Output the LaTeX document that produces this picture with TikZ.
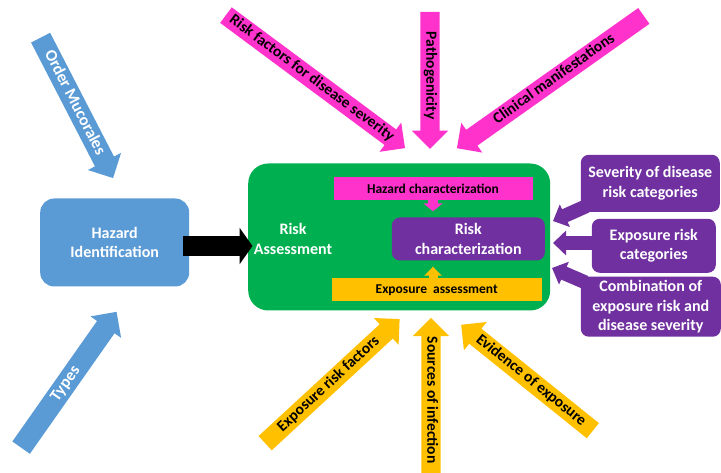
\documentclass[tikz,border=0pt]{standalone}
\usepackage{fontspec}
\setmainfont{Carlito}
\usetikzlibrary{shapes.arrows,arrows.meta}
\definecolor{hazblue}{HTML}{5B9BD5}
\definecolor{assgreen}{HTML}{00B050}
\definecolor{hazpink}{HTML}{FF33CC}
\definecolor{riskpurple}{HTML}{7030A0}
\definecolor{expgold}{HTML}{FFC000}
\newcommand\bigtxt{\bfseries\fontsize{16}{19.5}\selectfont}
\newcommand\bartxt{\bfseries\fontsize{13.5}{16}\selectfont}
\newcommand\arrtxt{\bfseries\fontsize{15.5}{18}\selectfont}
\newcommand\blutxt{\bfseries\fontsize{16.5}{19}\selectfont}
\begin{document}
\begin{tikzpicture}[x=1pt, y=-1pt,
    box/.style={rounded corners=8pt, inner sep=0pt, align=center, text=white, font=\bigtxt},
    bar/.style={inner sep=0pt, font=\bartxt},
    blockarrow/.style={single arrow, anchor=tail, inner xsep=4pt, single arrow tip angle=90, font=\arrtxt},
    thinarrow/.style={blockarrow, text height=10.5pt, text depth=3pt, inner ysep=2.75pt, single arrow head extend=8.5pt},
    bluearrow/.style={blockarrow, fill=hazblue, text=white, text height=11.5pt, text depth=3.5pt, inner ysep=3pt, single arrow head extend=8pt, font=\blutxt},
    pinkarrow/.style={thinarrow, fill=hazpink},
    goldarrow/.style={thinarrow, fill=expgold},
    blackarrow/.style={-{Triangle[length=13pt,width=36pt]}, line width=20pt},
    smallpink/.style={-{Triangle[length=8pt,width=19pt]}, line width=10pt, hazpink},
    smallgold/.style={-{Triangle[length=9pt,width=17pt]}, line width=9pt, expgold},
    callout/.style={-{Triangle[length=13pt,width=24pt]}, line width=14pt, riskpurple}]
  \useasboundingbox (0,0) rectangle (721,473);

  \node[box, fill=hazblue, rounded corners=14pt, minimum width=149pt, minimum height=88pt] (hazid) at (114.7,242.5) {Hazard\\Identification};

  \node[box, fill=assgreen, rounded corners=20pt, minimum width=302pt, minimum height=147pt] (ra) at (399.2,237) {};
  \node[text=white, align=center, font=\bigtxt] (ratext) at (293,239) {Risk\\Assessment};
  \node[bar, fill=hazpink, minimum width=199pt, minimum height=23pt] (hazchar) at (433,188.6) {Hazard characterization};
  \node[box, fill=riskpurple, minimum width=153pt, minimum height=43pt] (riskchar) at (468.3,239) {Risk\\characterization};
  \node[bar, fill=expgold, minimum width=210pt, minimum height=23pt] (expo) at (436.7,290) {Exposure\ \ assessment};

  \node[box, fill=riskpurple, minimum width=139pt, minimum height=57pt] (sevcat) at (650.3,183.3) {Severity of disease\\risk categories};
  \node[box, fill=riskpurple, minimum width=124pt, minimum height=54pt] (expcat) at (653.8,245.8) {Exposure risk\\categories};
  \node[box, fill=riskpurple, minimum width=140pt, minimum height=60pt] (combo) at (650.8,306.7) {Combination of\\exposure risk and\\disease severity};

  \node[bluearrow, rotate=-62.7, minimum height=158pt] (mucor) at (40.5,37.5) {Order Mucorales};
  \node[bluearrow, rotate=54.9, minimum height=166pt] (types) at (21,447.8) {Types};
  \node[pinkarrow, rotate=-36.6, minimum height=223pt] (riskfac) at (225.8,15) {Risk factors for disease severity};
  \node[pinkarrow, rotate=-90, minimum height=137pt] (patho) at (430,11.7) {Pathogenicity};
  \node[pinkarrow, rotate=35.3, shape border rotate=180, minimum height=229pt] (clinic) at (644,15.8) {Clinical manifestations};
  \node[goldarrow, rotate=42.7, minimum height=183pt] (exprisk) at (265,443.3) {Exposure risk factors};
  \node[goldarrow, rotate=-90, shape border rotate=180, minimum height=155pt] (sources) at (431,473) {Sources of infection};
  \node[goldarrow, rotate=-38.8, shape border rotate=180, minimum height=169pt] (evid) at (593,430.8) {Evidence of exposure};

  \draw[blackarrow] ([xshift=-6pt,yshift=-3.5pt]hazid.east) -- ([xshift=4.5pt,yshift=-3.5pt]hazid.east -| ra.west);
  \draw[smallpink] (hazchar.south) -- ([yshift=6pt]hazchar.south |- riskchar.north);
  \draw[smallgold] (expo.north -| hazchar.south) -- ([yshift=-6pt]hazchar.south |- riskchar.south);

  \coordinate (tipsev) at (553,221);
  \coordinate (tipexp) at (553,243);
  \coordinate (tipcomb) at (552,268);
  \draw[callout] ([xshift=6pt,yshift=6pt]sevcat.south west) -- (tipsev);
  \draw[callout] (expcat.west |- tipexp) -- (tipexp);
  \draw[callout] ([xshift=5pt,yshift=-6pt]combo.north west) -- (tipcomb);
\end{tikzpicture}
\end{document}
